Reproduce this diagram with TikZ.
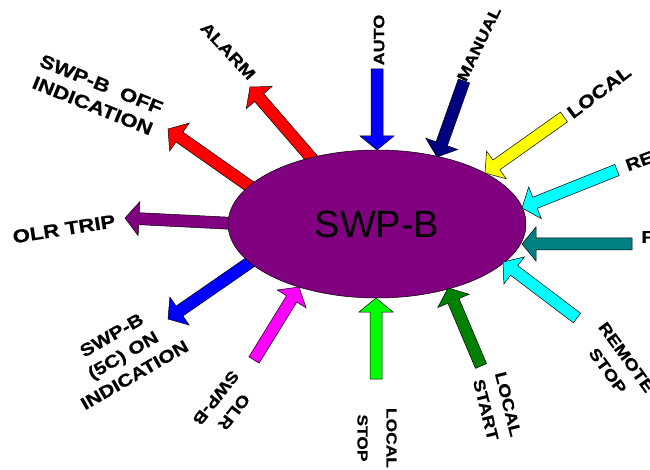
\documentclass[tikz,border=0pt]{standalone}
\usepackage{fontspec}
\setmainfont{Liberation Sans}
\newfontfamily\lblfont{Liberation Sans}[FakeStretch=1.2,FakeBold=0.6]
\usetikzlibrary{calc,shapes.geometric}

\definecolor{swppurple}{RGB}{128,0,128}
\definecolor{swpnavy}{RGB}{0,0,128}
\definecolor{swpteal}{RGB}{0,128,128}
\definecolor{swpgreen}{RGB}{0,128,0}
\definecolor{swplime}{RGB}{0,255,0}
\definecolor{swpcyan}{RGB}{0,255,255}
\definecolor{swpmagenta}{RGB}{255,0,255}
\definecolor{swpblue}{RGB}{0,0,255}
\definecolor{swpred}{RGB}{255,0,0}
\definecolor{swpyellow}{RGB}{255,255,0}

\newcommand{\blockarrow}[3]{%
  \coordinate (hb) at ($(#3)!14pt!(#2)$);
  \filldraw[fill=#1,draw=black,line width=0.5pt]
    ($(#2)!6pt!90:(#3)$) -- ($(hb)!6pt!-90:(#2)$) -- ($(hb)!17pt!-90:(#2)$)
    -- (#3) -- ($(hb)!17pt!90:(#2)$) -- ($(hb)!6pt!90:(#2)$)
    -- ($(#2)!6pt!-90:(#3)$) -- cycle;
}

\begin{document}
\begin{tikzpicture}[x=1pt,y=-1pt,
    lbl/.style={font=\lblfont\bfseries\fontsize{#1}{23}\selectfont,
      align=center, inner sep=0pt},
    lbl/.default=16,
    unit/.style={ellipse, fill=swppurple, draw=black, line width=0.5pt,
      minimum width=298pt, minimum height=148pt, inner sep=0pt,
      font=\fontsize{38}{40}\selectfont}
    ]
    \useasboundingbox (0,0) rectangle (650,470);

    \coordinate (swpc) at (377,224);
    % outgoing signals
    \coordinate (onTail) at (262,254);   \coordinate (onTip) at (168,319);
    \coordinate (tripTail) at (245,224); \coordinate (tripTip) at (125,218);
    \coordinate (offTail) at (262,195);  \coordinate (offTip) at (168,129);
    \coordinate (alarmTail) at (320,168);\coordinate (alarmTip) at (250,87);
    \blockarrow{swpblue}{onTail}{onTip}
    \blockarrow{swppurple}{tripTail}{tripTip}
    \blockarrow{swpred}{offTail}{offTip}
    \blockarrow{swpred}{alarmTail}{alarmTip}

    \node[unit] (SWP) at (swpc) {SWP-B};

    % incoming signals
    \coordinate (autoTail) at (377,69);      \coordinate (autoTip) at (377,150);
    \coordinate (manTail) at (464,81);       \coordinate (manTip) at (437,157);
    \coordinate (locTail) at (564,117);      \coordinate (locTip) at (485,173);
    \coordinate (rstartTail) at (617,170);   \coordinate (rstartTip) at (522,208);
    \coordinate (fTail) at (632,244);        \coordinate (fTip) at (522,244);
    \coordinate (rstopTail) at (577,318);    \coordinate (rstopTip) at (503,262);
    \coordinate (lstartTail) at (481,366);   \coordinate (lstartTip) at (448,288);
    \coordinate (lstopTail) at (376,379);    \coordinate (lstopTip) at (376,298);
    \coordinate (olrTail) at (254,360);      \coordinate (olrTip) at (299,287);
    \blockarrow{swpblue}{autoTail}{autoTip}
    \blockarrow{swpnavy}{manTail}{manTip}
    \blockarrow{swpyellow}{locTail}{locTip}
    \blockarrow{swpcyan}{rstartTail}{rstartTip}
    \blockarrow{swpteal}{fTail}{fTip}
    \blockarrow{swpcyan}{rstopTail}{rstopTip}
    \blockarrow{swpgreen}{lstartTail}{lstartTip}
    \blockarrow{swplime}{lstopTail}{lstopTip}
    \blockarrow{swpmagenta}{olrTail}{olrTip}

    \node[lbl=15,rotate=90] (autoLbl) at (379,40) {AUTO};
    \node[lbl=15.5,rotate=64] (manLbl) at (479,44) {MANUAL};
    \node[lbl=18,rotate=37] (locLbl) at (599,92) {LOCAL};
    \node[lbl=17,rotate=20,anchor=west] (rstartLbl) at (626,166) {REMOTE START};
    \node[lbl=17,anchor=west] (fLbl) at (641,237) {FAULT};
    \node[lbl=16,rotate=-54] (rstopLbl) at (617,364) {REMOTE\\STOP};
    \node[lbl=16,rotate=-76] (lstartLbl) at (497,407) {LOCAL\\START};
    \node[lbl=14.5,rotate=-90] (lstopLbl) at (377,438) {LOCAL\\[6pt]STOP};
    \node[lbl=16,rotate=-128] (olrLbl) at (225,405) {OLR\\SWP-B};
    \node[lbl=17.5,rotate=30] (onLbl) at (123,355) {SWP-B\\(5C) ON\\INDICATION};
    \node[lbl=18.5,rotate=9] (tripLbl) at (64,229) {OLR TRIP};
    \node[lbl=18.5,rotate=-22] (offLbl) at (97,95) {SWP-B\ \ OFF\\INDICATION};
    \node[lbl=16.5,rotate=-47] (alarmLbl) at (228,51) {ALARM};
\end{tikzpicture}
\end{document}
